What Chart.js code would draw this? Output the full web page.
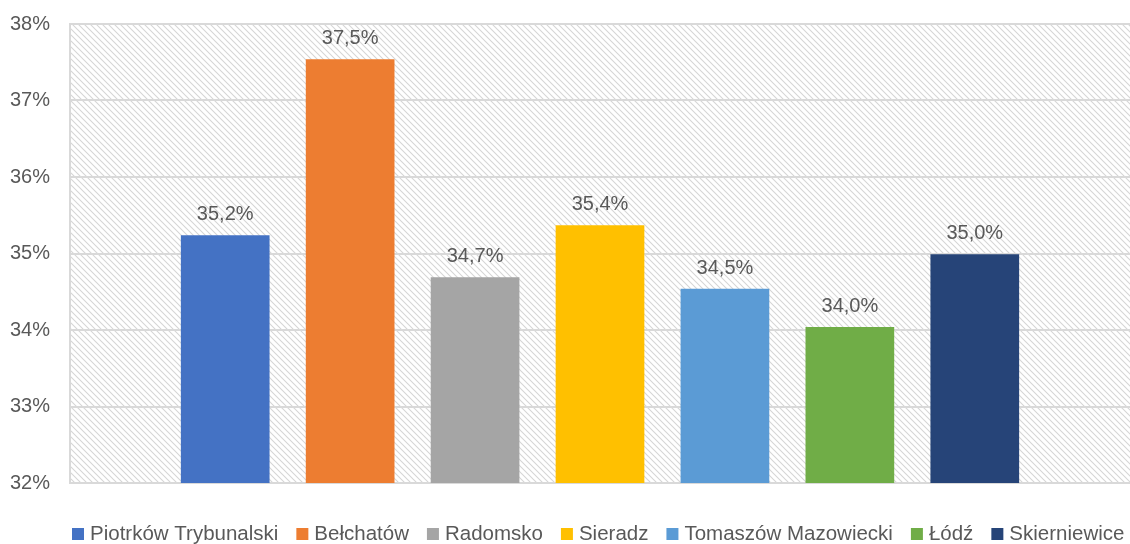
<!DOCTYPE html>
<html>
<head>
<meta charset="utf-8">
<script src="https://cdn.jsdelivr.net/npm/chart.js@4"></script>
<style>
  html, body { margin: 0; padding: 0; background: #fff; }
  #wrap { width: 1130px; height: 544px; }
</style>
</head>
<body>
<div id="wrap"><canvas id="barChart"></canvas></div>
<script>
var regions = ["Piotrków Trybunalski", "Bełchatów", "Radomsko", "Sieradz", "Tomaszów Mazowiecki", "Łódź", "Skierniewice"];
var shares = [35.24, 37.54, 34.69, 35.37, 34.54, 34.04, 34.99];
var colors = ["#4472c4", "#ed7d31", "#a5a5a5", "#ffc000", "#5b9bd5", "#70ad47", "#264478"];
var yTicks = [32, 33, 34, 35, 36, 37, 38];

var FONT = "'Liberation Sans', Arial, sans-serif";
var TEXT = "#595959";

function fmt(v) {
  return v.toFixed(1).replace(".", ",") + "%";
}

// diagonal hatch for the plot background
function makeHatch() {
  var c = document.createElement("canvas");
  c.width = 6; c.height = 6;
  var g = c.getContext("2d");
  g.strokeStyle = "#d6d6d6";
  g.lineWidth = 1.1;
  g.beginPath();
  g.moveTo(-1, -1); g.lineTo(7, 7);
  g.moveTo(-7, -1); g.lineTo(1, 7);
  g.moveTo(5, -1); g.lineTo(13, 7);
  g.stroke();
  return g.createPattern(c, "repeat");
}

var hatchBg = {
  id: "hatchBg",
  beforeDraw: function (chart) {
    var a = chart.chartArea, ctx = chart.ctx;
    ctx.save();
    ctx.fillStyle = makeHatch();
    ctx.fillRect(a.left, a.top, a.right - a.left, a.bottom - a.top);
    ctx.restore();
  }
};

var valueLabels = {
  id: "valueLabels",
  afterDatasetsDraw: function (chart) {
    var ctx = chart.ctx;
    ctx.save();
    ctx.font = "20px " + FONT;
    ctx.fillStyle = TEXT;
    ctx.textAlign = "center";
    ctx.textBaseline = "alphabetic";
    chart.data.datasets.forEach(function (ds, i) {
      var bar = chart.getDatasetMeta(i).data[0];
      ctx.fillText(fmt(ds.data[0]), bar.x, bar.y - 15);
    });
    ctx.restore();
  }
};

// legend drawn by hand so box/text gaps match the original
var bottomLegend = {
  id: "bottomLegend",
  afterDraw: function (chart) {
    var ctx = chart.ctx;
    var box = 12, gapText = 6, gapItem = 18;
    ctx.save();
    ctx.font = "20.5px " + FONT;
    ctx.textBaseline = "middle";
    ctx.textAlign = "left";
    var x = 72;
    var y = 534;
    chart.data.datasets.forEach(function (ds) {
      var w = ctx.measureText(ds.label).width;
      ctx.fillStyle = ds.backgroundColor;
      ctx.fillRect(x, y - box / 2, box, box);
      x += box + gapText;
      ctx.fillStyle = TEXT;
      ctx.fillText(ds.label, x, y);
      x += w + gapItem;
    });
    ctx.restore();
  }
};

document.addEventListener("DOMContentLoaded", function () {
  var ctx = document.getElementById("barChart").getContext("2d");
  var datasets = regions.map(function (name, i) {
    return {
      label: name,
      data: [shares[i]],
      backgroundColor: colors[i],
      categoryPercentage: 0.825,
      barPercentage: 0.71
    };
  });
  new Chart(ctx, {
    type: "bar",
    data: { labels: [""], datasets: datasets },
    plugins: [hatchBg, valueLabels, bottomLegend],
    options: {
      responsive: true,
      maintainAspectRatio: false,
      animation: false,
      layout: { padding: { top: 24, right: 0, left: 0, bottom: 53 } },
      plugins: {
        tooltip: { enabled: false },
        legend: { display: false }
      },
      scales: {
        x: {
          ticks: { display: false },
          grid: { display: false },
          border: { display: true, color: "#d9d9d9", width: 2 }
        },
        y: {
          min: yTicks[0],
          max: yTicks[yTicks.length - 1],
          afterBuildTicks: function (axis) {
            axis.ticks = yTicks.map(function (v) { return { value: v }; });
          },
          afterFit: function (axis) {
            axis.width = 70;
            axis.paddingTop = 0;
          },
          ticks: {
            padding: 20,
            color: TEXT,
            font: { size: 20, family: FONT },
            callback: function (v) { return v + "%"; }
          },
          grid: { color: "#d9d9d9", lineWidth: 2, drawTicks: false },
          border: { display: true, color: "#d9d9d9", width: 2 }
        }
      }
    }
  });
});
</script>
</body>
</html>
